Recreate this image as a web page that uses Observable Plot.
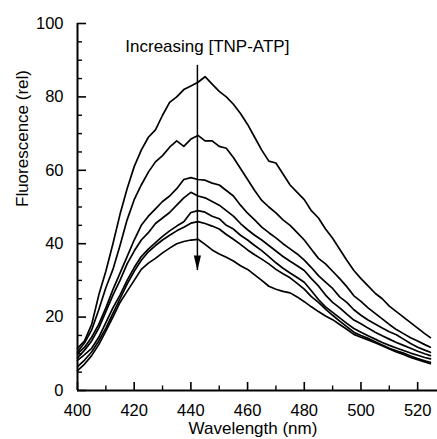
<!DOCTYPE html>
<html>
<head>
<meta charset="utf-8">
<script src="https://cdn.jsdelivr.net/npm/d3@7"></script>
<script src="https://cdn.jsdelivr.net/npm/@observablehq/plot@0.6"></script>
<style>
  html, body { margin: 0; padding: 0; background: #fff; }
  #chart { width: 437px; height: 439px; }
</style>
</head>
<body>
<div id="chart"></div>
<script>
// ---- data ----
const wavelengths = [400, 402.5, 405, 407.5, 410, 412.5, 415, 417.5, 420, 422.5, 425, 427.5, 430, 432.5, 435, 437.5, 440, 442.5, 445, 447.5, 450, 452.5, 455, 457.5, 460, 462.5, 465, 467.5, 470, 472.5, 475, 477.5, 480, 482.5, 485, 487.5, 490, 492.5, 495, 497.5, 500, 502.5, 505, 507.5, 510, 512.5, 515, 517.5, 520, 522.5, 524.5];

const seriesNames = ["1", "2", "3", "4", "5", "6", "7"];

const series1 = [11.5, 13.5, 18, 26, 32.5, 40, 48, 55, 61, 65.5, 69, 71, 75, 78.5, 80, 82, 83, 84, 85.5, 83.5, 81.5, 80, 78, 75.5, 72.5, 69, 65.5, 62.5, 62, 59, 56, 54, 52, 49, 47, 44, 41.5, 38.5, 35.5, 32.7, 30.5, 28.5, 26.5, 25, 23, 21.5, 20, 18.5, 17, 15.5, 14.4];
const series2 = [10.5, 13, 16.5, 22, 28, 33, 39.5, 46.5, 52, 56, 59.5, 62.3, 64, 66.3, 68, 66.5, 68.5, 69.5, 68, 68, 66.5, 66, 63.5, 60.5, 57.5, 54.5, 51.8, 50, 48.4, 46.5, 45, 43, 41, 38.5, 36, 34.5, 32.5, 30.5, 28.3, 25.8, 24.3, 22.5, 21, 19.5, 18, 16.6, 15.5, 14.4, 13.5, 12.5, 11.8];
const series3 = [10, 11.8, 14.5, 18, 22.5, 27.5, 32, 36.5, 41, 45, 47.5, 49.5, 51.5, 53, 55, 57.5, 58, 57.5, 57.3, 56.5, 56, 54.5, 53, 50.5, 48.3, 46.5, 44.5, 43, 41.6, 40, 38.6, 37.2, 35.5, 33.5, 31.3, 29.5, 27.8, 25.5, 24, 22, 20.5, 19.2, 18.1, 17, 16, 15.2, 14, 12.8, 11.8, 11, 10.4];
const series4 = [8.9, 11, 13.5, 17, 21.5, 26, 30, 34.5, 38, 41, 43, 45.5, 47, 48.5, 50.5, 52.5, 54, 53, 52.5, 51.5, 50.5, 49, 47.5, 45.5, 43.8, 42.3, 41, 39.5, 38, 36.5, 35.2, 34, 32.7, 30.5, 28.5, 26, 24, 22.5, 20.8, 19.2, 18.2, 17, 15.9, 14.9, 14, 13.1, 12.3, 11.5, 10.7, 10, 9.5];
const series5 = [8.2, 9.8, 11.5, 14.5, 18.5, 22.5, 26, 30, 33.5, 36.5, 38.5, 40.3, 42, 43.5, 44.8, 46, 48.5, 49, 48.6, 47.5, 46.8, 45, 44, 42.3, 41, 39.5, 38.1, 36.5, 34.8, 33.3, 32, 30.8, 29.5, 27.2, 24.8, 22.8, 21.3, 19.8, 18.3, 16.9, 15.9, 14.9, 14, 13.1, 12.3, 11.6, 10.9, 10.2, 9.6, 9, 8.6];
const series6 = [6.5, 8.3, 10.5, 13.5, 17, 21, 25, 29, 32.5, 35.5, 37.8, 39.5, 41, 42.3, 43.5, 44.5, 45.6, 46, 45.5, 44.8, 44, 42.5, 41.2, 39.8, 38.3, 37, 35.8, 34.5, 33, 31.8, 30.7, 29.2, 27.6, 25.6, 24, 22.2, 20.5, 18.9, 17.4, 15.9, 15, 14.2, 13.3, 12.4, 11.5, 10.8, 10.2, 9.4, 8.7, 8.1, 7.7];
const series7 = [5.4, 7.2, 9.5, 12.5, 16.2, 20, 24, 27, 30, 33, 34.7, 36, 37.5, 38.8, 40, 40.6, 41, 41.2, 39.8, 38.3, 37.2, 36.3, 35.3, 34, 33, 31.5, 30, 28.4, 27.6, 27, 26.6, 25.5, 24.2, 22.8, 21.5, 20.3, 19.3, 18, 16.7, 15.3, 14.5, 13.8, 13, 12.2, 11.3, 10.5, 9.8, 9, 8.4, 7.8, 7.3];

const xMajorTicks = [400, 420, 440, 460, 480, 500, 520];
const xMinorTicks = [410, 430, 450, 470, 490, 510];
const yMajorTicks = [0, 20, 40, 60, 80, 100];
const yMinorTicks = [5, 10, 15, 25, 30, 35, 45, 50, 55, 65, 70, 75, 85, 90, 95];

const xLabel = "Wavelength (nm)";
const yLabel = "Fluorescence (rel)";
const annotationText = "Increasing [TNP-ATP]";
const annotationAt = {wavelength: 445.8, value: 93.7};
const arrowAt = {wavelength: 442.3, from: 88.6, to: 32.7};

// ---- build table ----
const allSeries = [series1, series2, series3, series4, series5, series6, series7];
const rows = [];
allSeries.forEach((vals, i) => {
  vals.forEach((v, j) => rows.push({series: seriesNames[i], wavelength: wavelengths[j], value: v}));
});

const W = 437, H = 439, ML = 77, MR = 0, MT = 23, MB = 49;
const innerW = W - ML - MR, innerH = H - MT - MB;

const headSymbol = {
  draw(ctx) {
    ctx.moveTo(0, 0);
    ctx.lineTo(-3.6, -15);
    ctx.lineTo(3.6, -15);
    ctx.closePath();
  }
};

const chart = Plot.plot({
  width: W,
  height: H,
  marginLeft: ML,
  marginRight: MR,
  marginTop: MT,
  marginBottom: MB,
  style: {fontFamily: "'Liberation Sans', Arial, Helvetica, sans-serif", fontSize: "16.5px", color: "#000", background: "#fff"},
  x: {domain: [400, 527], axis: null},
  y: {domain: [0, 100], axis: null},
  marks: [
    // curves
    Plot.line(rows, {x: "wavelength", y: "value", z: "series", stroke: "#000", strokeWidth: 1.7, strokeLinejoin: "round", strokeLinecap: "round"}),
    // axis lines
    Plot.ruleX([400], {stroke: "#000", strokeWidth: 2}),
    Plot.ruleY([0], {stroke: "#000", strokeWidth: 2}),
    // inward ticks
    Plot.tickX(xMajorTicks, {x: d => d, insetTop: innerH - 8, stroke: "#000", strokeWidth: 1.6}),
    Plot.tickX(xMinorTicks, {x: d => d, insetTop: innerH - 4.5, stroke: "#000", strokeWidth: 1.4}),
    Plot.tickY(yMajorTicks, {y: d => d, insetRight: innerW - 9, stroke: "#000", strokeWidth: 1.6}),
    Plot.tickY(yMinorTicks, {y: d => d, insetRight: innerW - 5, stroke: "#000", strokeWidth: 1.4}),
    // tick labels
    Plot.axisX(xMajorTicks, {tickSize: 0, tickPadding: 14, label: null, fill: "#000"}),
    Plot.axisY(yMajorTicks, {tickSize: 0, tickPadding: 14, label: null, fill: "#000"}),
    // axis titles
    Plot.text([xLabel], {frameAnchor: "bottom", lineAnchor: "middle", text: d => d, dy: 38.5, dx: -4.5, fontSize: 17, fill: "#000"}),
    Plot.text([yLabel], {frameAnchor: "left", lineAnchor: "middle", text: d => d, rotate: -90, dx: -54.5, fontSize: 17, fill: "#000"}),
    // annotation
    Plot.text([annotationText], {x: () => annotationAt.wavelength, y: () => annotationAt.value, text: d => d, fontSize: 17, fill: "#000"}),
    Plot.ruleX([arrowAt], {x: "wavelength", y1: "from", y2: "to", stroke: "#000", strokeWidth: 1.5}),
    Plot.dot([arrowAt], {x: "wavelength", y: "to", symbol: headSymbol, fill: "#000", stroke: "none"})
  ]
});

document.getElementById("chart").appendChild(chart);
</script>
</body>
</html>
